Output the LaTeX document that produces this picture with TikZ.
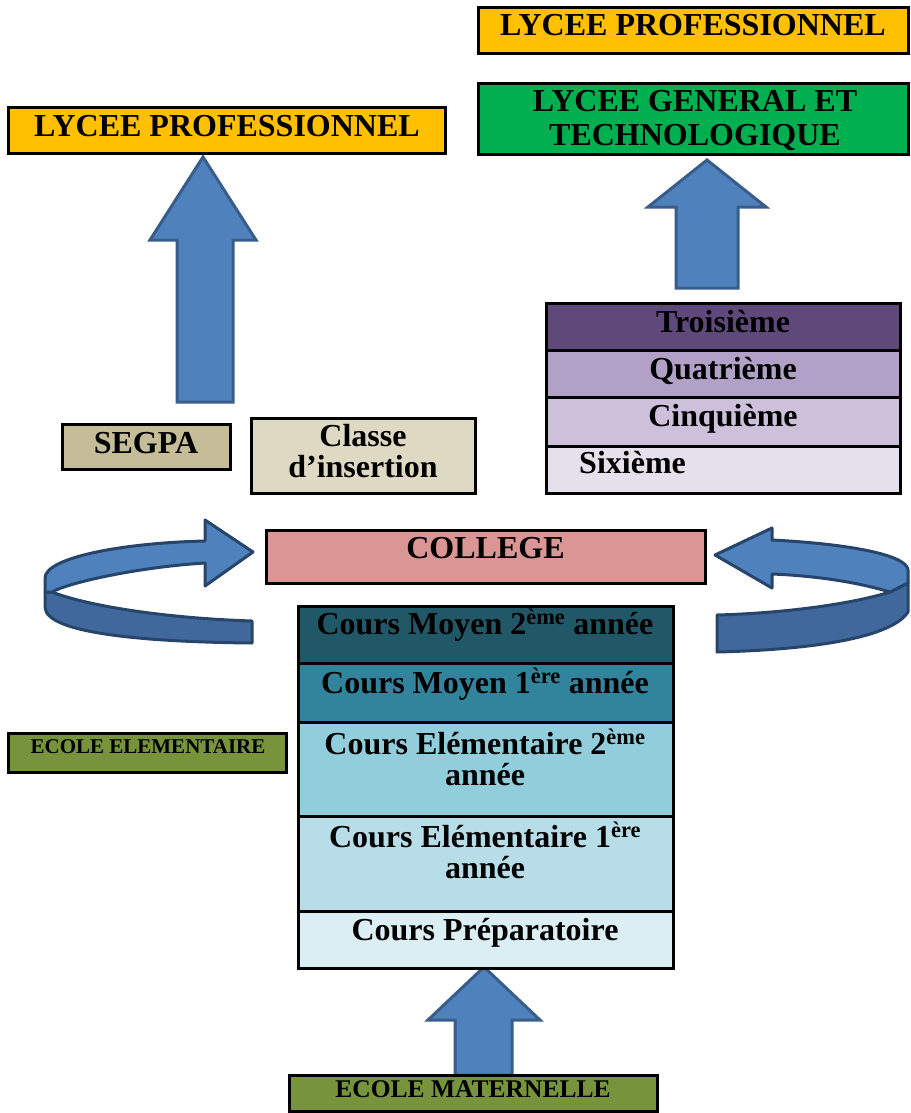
\documentclass[tikz,border=0pt]{standalone}
\usepackage{fontspec}
\setmainfont{Liberation Serif}
\definecolor{cOrange}{HTML}{FFC000}
\definecolor{cGreen}{HTML}{00B050}
\definecolor{cPurA}{HTML}{5F497A}
\definecolor{cPurB}{HTML}{B2A1C7}
\definecolor{cPurC}{HTML}{CCC0DA}
\definecolor{cPurD}{HTML}{E5E0EC}
\definecolor{cSegpa}{HTML}{C4BD97}
\definecolor{cIns}{HTML}{DDD9C3}
\definecolor{cCol}{HTML}{D99694}
\definecolor{cTeA}{HTML}{215868}
\definecolor{cTeB}{HTML}{31849B}
\definecolor{cTeC}{HTML}{92CDDC}
\definecolor{cTeD}{HTML}{B7DEE8}
\definecolor{cTeE}{HTML}{DBEEF3}
\definecolor{cOlive}{HTML}{77933C}
\definecolor{cArrow}{HTML}{4F81BD}
\definecolor{cArrowD}{HTML}{41689C}
\definecolor{cArrowB}{HTML}{385D8A}
\definecolor{cArrowBB}{HTML}{27456B}
\begin{document}
\begin{tikzpicture}[x=1pt,y=-1pt,
  box/.style={draw=black, line width=3pt, inner sep=0pt, outer sep=0pt, rectangle},
  txt/.style={font=\fontsize{32}{34}\selectfont\bfseries, anchor=base, inner sep=0pt},
  txtsmall/.style={font=\fontsize{21}{23}\selectfont\bfseries, anchor=base, inner sep=0pt},
  txtmid/.style={font=\fontsize{25.5}{27}\selectfont\bfseries, anchor=base, inner sep=0pt},
  blockarrow/.style={fill=cArrow, draw=cArrowB, line width=3pt, line join=miter},
  curvedtop/.style={fill=cArrow, draw=cArrowBB, line width=3pt, line join=round},
  curvedbot/.style={fill=cArrowD, draw=cArrowBB, line width=3pt, line join=round}]
\useasboundingbox (0,0) rectangle (910,1113);

% ---- block arrows ----
\draw[blockarrow] (177,402) -- (177,240) -- (150,240) -- (203,157) -- (256,240) -- (233,240) -- (233,402) -- cycle;
\draw[blockarrow] (676,288) -- (676,207) -- (648,207) -- (707,160) -- (766,207) -- (738,207) -- (738,288) -- cycle;
\draw[blockarrow] (455,1075) -- (455,1020) -- (428,1020) -- (484,967) -- (540,1020) -- (512,1020) -- (512,1075) -- cycle;

% ---- left curved arrow ----
\draw[curvedbot] (45,592) -- (52,592) .. controls (85,605) and (160,618) .. (252,621) -- (252,643)
   .. controls (150,642) and (45,634) .. (45,607) -- cycle;
\draw[curvedtop] (205,541) .. controls (120,543) and (45,558) .. (45,578) -- (45,592) -- (52,592)
   .. controls (70,582) and (140,567) .. (205,563) -- (205,586) -- (253,552) -- (205,520) -- cycle;

% ---- right curved arrow ----
\draw[curvedbot] (890,592) -- (908,583) -- (908,612) .. controls (890,640) and (800,650) .. (717,652) -- (717,615)
   .. controls (790,613) and (855,603) .. (890,592) -- cycle;
\draw[curvedtop] (772,540) .. controls (850,544) and (907,555) .. (908,570) -- (908,583) -- (890,592)
   .. controls (860,583) and (820,576) .. (772,574) -- (772,588) -- (715,555) -- (772,528) -- cycle;

% ---- boxes ----
\node[box, fill=cOrange, minimum width=430pt, minimum height=46pt] (lpR) at (693,31) {};
\node[box, fill=cGreen, minimum width=430pt, minimum height=70pt] (lgt) at (693,119) {};
\node[box, fill=cOrange, minimum width=437pt, minimum height=45pt] (lpL) at (226.5,130.5) {};

\node[box, fill=cPurA, minimum width=354pt, minimum height=47pt] (ter) at (723,326.5) {};
\node[box, fill=cPurB, minimum width=354pt, minimum height=47pt] (qua) at (723,373.5) {};
\node[box, fill=cPurC, minimum width=354pt, minimum height=49pt] (cin) at (723,421.5) {};
\node[box, fill=cPurD, minimum width=354pt, minimum height=47pt] (six) at (723,469.5) {};

\node[box, fill=cSegpa, minimum width=168pt, minimum height=45pt] (segpa) at (146,446.5) {};
\node[box, fill=cIns, minimum width=224pt, minimum height=75pt] (ins) at (363,455.5) {};
\node[box, fill=cCol, minimum width=439pt, minimum height=53pt] (col) at (485.5,556.5) {};

\node[box, fill=cTeA, minimum width=375pt, minimum height=57pt] (cm2) at (485.5,634.5) {};
\node[box, fill=cTeB, minimum width=375pt, minimum height=59pt] (cm1) at (485.5,692.5) {};
\node[box, fill=cTeC, minimum width=375pt, minimum height=94pt] (ce2) at (485.5,769) {};
\node[box, fill=cTeD, minimum width=375pt, minimum height=95pt] (ce1) at (485.5,863.5) {};
\node[box, fill=cTeE, minimum width=375pt, minimum height=57pt] (cp) at (485.5,939.5) {};

\node[box, fill=cOlive, minimum width=278pt, minimum height=39pt] (ee) at (147,752.5) {};
\node[box, fill=cOlive, minimum width=368pt, minimum height=36pt] (em) at (473,1093) {};

% ---- texts ----
\node[txt] (tlpR) at (693,36) {LYCEE PROFESSIONNEL};
\node[txt] (tlgt1) at (695,112) {LYCEE GENERAL ET};
\node[txt] (tlgt2) at (695,146) {TECHNOLOGIQUE};
\node[txt] (tlpL) at (227,136) {LYCEE PROFESSIONNEL};

\node[txt] (tter) at (723,332) {Troisième};
\node[txt] (tqua) at (723,379) {Quatrième};
\node[txt] (tcin) at (723,426) {Cinquième};
\node[txt, anchor=base west] (tsix) at (579,473) {Sixième};

\node[txt] (tsegpa) at (146,453) {SEGPA};
\node[txt] (tins1) at (363,446) {Classe};
\node[txt] (tins2) at (363,477) {d’insertion};
\node[txt] (tcol) at (485.5,558) {COLLEGE};

\node[txt] (tcm2) at (485,634) {Cours Moyen 2\textsuperscript{ème} année};
\node[txt] (tcm1) at (485,693) {Cours Moyen 1\textsuperscript{ère} année};
\node[txt] (tce2a) at (485,754) {Cours Elémentaire 2\textsuperscript{ème}};
\node[txt] (tce2b) at (485,785) {année};
\node[txt] (tce1a) at (485,847) {Cours Elémentaire 1\textsuperscript{ère}};
\node[txt] (tce1b) at (485,878) {année};
\node[txt] (tcp) at (485,940) {Cours Préparatoire};

\node[txtsmall] (tee) at (148,753) {ECOLE ELEMENTAIRE};
\node[txtmid] (tem) at (473,1097) {ECOLE MATERNELLE};
\end{tikzpicture}
\end{document}
